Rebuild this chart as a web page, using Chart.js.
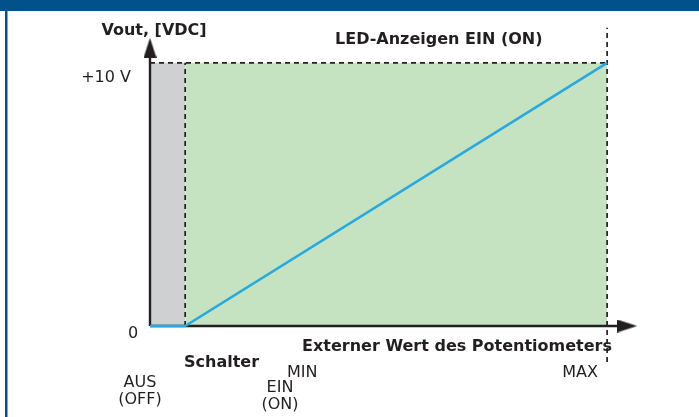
<!DOCTYPE html>
<html>
<head>
<meta charset="utf-8">
<script src="https://cdn.jsdelivr.net/npm/chart.js@4.4.1/dist/chart.umd.min.js"></script>
<style>
  html, body { margin: 0; padding: 0; background: #fff; }
  #chart { position: absolute; left: 0; top: 0; }
</style>
</head>
<body>
<canvas id="chart" width="699" height="417"></canvas>
<script>
// potentiometer position (x) vs output voltage (y)
const potX = [0, 10, 130];        // switch off, MIN, MAX
const voutY = [0, 0, 10];
const switchOn = 10;
const potMax = 130;
const vMax = 10;
const xAxisEnd = 138.5;
const yAxisEnd = 11.4;
const arrowX = 135.7;
const arrowY = 10.57;
const dashTop = 11.33;
const dashBottom = -1.37;

const yTickLabels = ['0', '+10 V'];
const xTickLabels = ['MIN', 'MAX'];
const switchLabels = [['AUS', '(OFF)'], ['EIN', '(ON)']];
const titles = ['Vout, [VDC]', 'LED-Anzeigen EIN (ON)', 'Schalter', 'Externer Wert des Potentiometers'];

const ink = '#231f20';
const FONT = '"DejaVu Sans", Verdana, sans-serif';

function arrowHead() {
    const c = document.createElement('canvas');
    c.width = 13; c.height = 20;
    const g = c.getContext('2d');
    g.fillStyle = ink;
    g.beginPath();
    g.moveTo(6.5, 0); g.lineTo(13, 20); g.lineTo(0, 20); g.closePath();
    g.fill();
    return c;
}
const head = arrowHead();

const pts = (xs, ys) => xs.map((x, i) => ({ x: x, y: ys[i] }));

const frame = {
    id: 'frame',
    beforeDraw(chart) {
        const ctx = chart.ctx;
        ctx.save();
        ctx.fillStyle = '#fff';
        ctx.fillRect(0, 0, chart.width, chart.height);
        ctx.fillStyle = '#01528a';
        ctx.fillRect(0, 0, chart.width, 11);
        ctx.fillRect(5, 0, 2.5, chart.height);
        ctx.restore();
    },
    afterDraw(chart) {
        const ctx = chart.ctx;
        const xs = chart.scales.x, ys = chart.scales.y;
        const x0 = xs.getPixelForValue(0);
        ctx.save();
        ctx.fillStyle = ink;
        ctx.textBaseline = 'alphabetic';
        ctx.font = 'bold 16px ' + FONT;
        ctx.textAlign = 'center';
        ctx.fillText(titles[0], x0 + 4, 35);
        ctx.textAlign = 'left';
        ctx.fillText(titles[1], 335, 44);
        ctx.fillText(titles[2], 184, 367);
        ctx.textAlign = 'right';
        ctx.fillText(titles[3], 612, 351);

        ctx.font = '16px ' + FONT;
        ctx.textAlign = 'right';
        ctx.fillText(yTickLabels[1], x0 - 19, ys.getPixelForValue(vMax) + 19);
        ctx.textAlign = 'center';
        ctx.fillText(yTickLabels[0], x0 - 17, ys.getPixelForValue(0) + 12);
        ctx.textAlign = 'left';
        ctx.fillText(xTickLabels[0], 287, 377);
        ctx.textAlign = 'right';
        ctx.fillText(xTickLabels[1], 598, 377);
        ctx.textAlign = 'center';
        ctx.fillText(switchLabels[0][0], 140, 387);
        ctx.fillText(switchLabels[0][1], 140, 404);
        ctx.fillText(switchLabels[1][0], 280, 392);
        ctx.fillText(switchLabels[1][1], 280, 409);
        ctx.restore();
    }
};

const lineBase = { showLine: true, pointRadius: 0, clip: false, fill: false };
const dash = { borderColor: ink, borderWidth: 1.7, borderDash: [5, 4] };

new Chart(document.getElementById('chart'), {
    type: 'scatter',
    data: {
        datasets: [
            Object.assign({}, lineBase, { data: pts(potX, voutY), borderColor: '#27a9e1', borderWidth: 2.6 }),
            { data: [{ x: 0, y: arrowY }], pointStyle: head, pointRotation: 0, clip: false },
            { data: [{ x: arrowX, y: 0 }], pointStyle: head, pointRotation: 90, clip: false },
            Object.assign({}, lineBase, { data: [{ x: 0, y: 0 }, { x: 0, y: arrowY }], borderColor: ink, borderWidth: 2.4 }),
            Object.assign({}, lineBase, { data: [{ x: 0, y: 0 }, { x: arrowX, y: 0 }], borderColor: ink, borderWidth: 2.4 }),
            Object.assign({}, lineBase, dash, { data: [{ x: 0, y: vMax }, { x: potMax, y: vMax }] }),
            Object.assign({}, lineBase, dash, { data: [{ x: switchOn, y: 0 }, { x: switchOn, y: vMax }] }),
            Object.assign({}, lineBase, dash, { data: [{ x: potMax, y: dashBottom }, { x: potMax, y: dashTop }] }),
            Object.assign({}, lineBase, { data: [{ x: switchOn, y: vMax }, { x: potMax, y: vMax }], borderWidth: 0, borderColor: 'rgba(0,0,0,0)', fill: 'origin', backgroundColor: '#c5e2c1' }),
            Object.assign({}, lineBase, { data: [{ x: 0, y: vMax }, { x: switchOn, y: vMax }], borderWidth: 0, borderColor: 'rgba(0,0,0,0)', fill: 'origin', backgroundColor: '#cfd0d2' })
        ]
    },
    options: {
        responsive: false,
        animation: false,
        events: [],
        layout: { padding: { left: 150, right: 62, top: 26, bottom: 91 } },
        scales: {
            x: { type: 'linear', min: 0, max: xAxisEnd, display: false },
            y: { type: 'linear', min: 0, max: yAxisEnd, display: false }
        },
        plugins: { legend: { display: false }, tooltip: { enabled: false } }
    },
    plugins: [frame]
});
</script>
</body>
</html>
